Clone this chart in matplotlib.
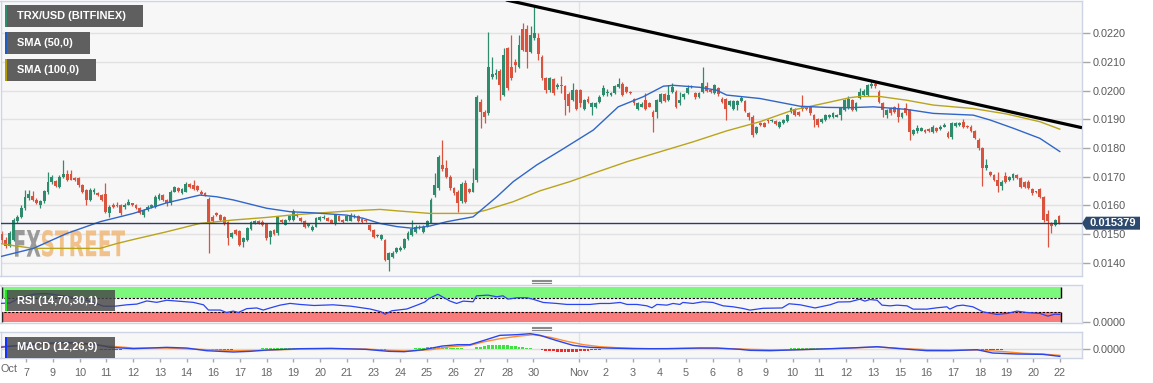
import numpy as np
import matplotlib
matplotlib.use("Agg")
import matplotlib.pyplot as plt
from matplotlib.patches import Rectangle, Polygon, PathPatch
from matplotlib.textpath import TextPath
from matplotlib.font_manager import FontProperties
from matplotlib.transforms import Affine2D
from matplotlib.lines import Line2D

plt.rcParams['font.family'] = ['Liberation Sans', 'DejaVu Sans']

# 4H candles TRX/USD, prices in units of 1e-4 USD
opens = [
    150.0, 148.0, 146.0, 148.0, 154.5, 156.0, 159.0, 162.5, 163.3, 162.0,
    160.0, 161.5, 164.5, 168.0, 168.5, 166.5, 170.0, 171.0, 171.0, 169.5,
    169.5, 167.0, 165.3, 162.0, 164.5, 164.2, 163.6, 164.0, 157.2, 160.2,
    160.3, 160.0, 159.3, 160.3, 160.7, 160.1, 159.0, 156.6, 158.4, 159.5,
    159.5, 162.4, 163.6, 161.9, 160.7, 164.8, 166.0, 164.2, 164.8, 167.3,
    167.0, 166.6, 164.8, 164.3, 162.4, 156.0, 157.5, 156.6, 155.8, 154.3,
    149.1, 151.4, 151.2, 147.2, 147.9, 151.8, 153.7, 154.6, 154.3, 153.4,
    149.0, 151.4, 150.2, 155.0, 153.3, 154.9, 155.0, 156.8, 155.5, 154.5,
    152.8, 151.5, 152.6, 154.9, 155.5, 155.5, 154.9, 153.4, 156.3, 154.9,
    154.7, 154.7, 155.9, 156.3, 155.1, 154.9, 153.1, 151.4, 149.2, 148.3,
    147.9, 140.9, 142.1, 143.8, 144.5, 145.0, 148.4, 149.7, 150.6, 152.0,
    150.8, 152.6, 154.0, 163.6, 166.0, 174.1, 173.0, 170.0, 166.0, 164.8,
    161.5, 167.7, 165.6, 164.8, 168.8, 196.2, 192.7, 192.2, 204.7, 205.5,
    207.0, 198.5, 214.8, 208.4, 210.1, 208.4, 221.7, 221.7, 213.6, 218.3,
    218.3, 211.9, 204.3, 200.2, 204.0, 201.2, 202.0, 201.6, 199.0, 196.7,
    200.2, 200.2, 193.8, 197.3, 194.4, 194.5, 196.2, 198.5, 199.3, 198.5,
    199.1, 201.2, 202.4, 201.2, 199.7, 197.0, 193.8, 194.5, 196.7, 195.6,
    192.7, 192.7, 196.2, 198.8, 196.7, 199.7, 199.7, 195.6, 197.7, 199.1,
    201.3, 199.3, 197.9, 199.7, 201.6, 200.2, 199.3, 200.8, 197.3, 197.0,
    195.2, 193.8, 195.1, 196.3, 196.3, 192.2, 191.0, 185.3, 188.7, 188.7,
    189.9, 189.3, 189.5, 187.5, 188.9, 189.3, 192.7, 193.5, 192.7, 194.4,
    194.4, 194.4, 191.6, 190.0, 189.0, 189.9, 191.0, 191.0, 191.0, 191.6,
    193.3, 193.9, 196.7, 193.3, 197.4, 198.5, 198.5, 201.5, 202.3, 199.7,
    195.6, 191.6, 193.9, 194.2, 193.9, 191.0, 193.9, 193.3, 185.0, 185.8,
    186.1, 186.3, 186.6, 185.7, 187.1, 186.7, 187.5, 185.4, 183.7, 187.7,
    188.1, 189.2, 187.6, 187.5, 185.8, 182.8, 180.0, 172.9, 171.5, 170.6,
    169.0, 166.6, 170.2, 168.8, 169.4, 170.6, 169.4, 168.2, 168.2, 165.6,
    164.7, 165.6, 163.0, 156.9, 153.8, 153.1, 156.3,
]
highs = [
    151.0, 149.0, 151.0, 155.5, 156.5, 160.0, 165.3, 165.3, 165.0, 162.5,
    162.0, 165.5, 171.5, 170.5, 169.0, 170.5, 175.8, 172.5, 172.3, 170.0,
    170.0, 167.5, 165.8, 166.0, 166.0, 164.6, 164.0, 167.7, 160.0, 161.0,
    161.2, 160.5, 160.8, 162.1, 161.0, 160.5, 159.3, 158.8, 160.0, 160.6,
    163.5, 164.2, 164.0, 162.2, 165.3, 166.8, 166.5, 166.0, 168.3, 167.8,
    168.8, 167.0, 165.2, 164.6, 163.0, 156.5, 157.8, 157.0, 156.2, 154.6,
    150.8, 151.8, 151.5, 149.0, 152.5, 154.6, 155.0, 155.0, 154.8, 153.7,
    151.4, 151.8, 156.3, 155.4, 155.4, 156.8, 158.6, 157.3, 155.8, 154.8,
    153.8, 153.0, 156.0, 156.3, 156.5, 156.0, 155.3, 157.0, 156.8, 155.3,
    156.8, 157.2, 157.0, 156.8, 155.5, 155.2, 153.5, 151.8, 150.0, 150.0,
    148.3, 143.8, 144.0, 145.5, 145.8, 148.7, 151.0, 154.9, 153.0, 153.0,
    153.0, 155.0, 162.5, 171.2, 177.5, 182.8, 175.8, 170.5, 166.5, 165.3,
    168.0, 168.8, 166.0, 173.0, 198.5, 197.0, 193.2, 220.6, 211.9, 207.5,
    207.5, 214.8, 215.2, 219.4, 211.0, 219.4, 223.5, 222.9, 222.6, 229.5,
    220.0, 212.4, 204.8, 204.8, 204.5, 202.6, 205.0, 202.0, 199.5, 202.6,
    200.7, 200.7, 197.2, 198.0, 196.0, 196.0, 198.5, 202.0, 200.5, 199.5,
    202.0, 204.3, 203.0, 201.6, 200.0, 197.5, 196.0, 196.0, 199.1, 196.0,
    193.2, 197.2, 199.3, 199.3, 202.0, 202.6, 200.2, 199.7, 199.3, 202.0,
    202.0, 199.7, 199.5, 208.4, 203.2, 200.6, 202.5, 201.2, 197.7, 197.5,
    196.7, 196.7, 196.7, 198.2, 196.7, 192.6, 191.4, 187.6, 189.0, 189.0,
    190.3, 190.3, 189.8, 189.6, 190.3, 192.0, 194.4, 193.9, 193.0, 198.5,
    194.8, 194.8, 192.0, 190.4, 190.6, 192.0, 192.0, 192.5, 192.0, 194.4,
    197.3, 198.0, 197.3, 196.0, 200.9, 200.5, 202.5, 203.8, 202.9, 200.2,
    196.0, 193.8, 194.3, 194.6, 195.6, 192.5, 195.6, 193.8, 186.6, 187.9,
    187.3, 186.7, 187.0, 188.1, 187.5, 187.9, 188.6, 185.8, 189.0, 189.0,
    189.1, 190.0, 188.1, 188.2, 186.2, 183.4, 180.4, 176.2, 171.9, 171.0,
    171.7, 168.7, 171.7, 170.4, 171.4, 171.0, 169.8, 168.6, 168.8, 166.0,
    164.9, 166.0, 163.4, 158.5, 154.1, 155.2, 156.5,
]
lows = [
    147.0, 145.0, 145.5, 147.5, 154.0, 155.5, 158.5, 162.0, 161.5, 160.5,
    159.0, 161.0, 164.0, 167.5, 166.3, 166.0, 169.5, 168.5, 168.8, 168.5,
    166.5, 164.3, 160.1, 161.5, 164.0, 163.2, 161.5, 157.2, 156.0, 159.0,
    159.5, 156.8, 158.8, 160.0, 159.8, 158.6, 157.0, 156.0, 158.0, 159.2,
    159.0, 162.0, 161.4, 159.8, 160.3, 164.5, 164.5, 164.0, 164.5, 166.2,
    165.5, 165.0, 163.7, 163.3, 143.5, 154.0, 156.3, 154.5, 153.3, 146.2,
    148.7, 149.7, 145.8, 145.6, 147.5, 151.4, 153.4, 153.4, 152.8, 148.0,
    146.5, 149.7, 149.8, 153.9, 153.0, 154.6, 154.7, 155.8, 154.2, 152.0,
    152.5, 151.2, 152.3, 154.6, 155.2, 154.4, 153.7, 153.0, 154.4, 154.0,
    154.4, 154.4, 155.6, 154.3, 154.0, 154.1, 151.0, 148.5, 148.9, 148.0,
    140.5, 137.2, 141.8, 143.5, 144.2, 144.7, 148.0, 149.4, 150.3, 151.7,
    150.3, 152.3, 153.7, 163.0, 165.5, 171.9, 169.5, 165.5, 163.6, 157.8,
    161.0, 160.8, 164.2, 164.5, 168.3, 186.9, 188.7, 191.5, 204.2, 204.0,
    196.7, 198.0, 200.2, 203.8, 206.6, 207.9, 214.0, 207.8, 213.2, 217.7,
    210.9, 203.8, 199.1, 199.7, 198.6, 200.6, 199.1, 191.6, 192.7, 196.3,
    193.3, 194.5, 193.3, 195.8, 191.6, 194.0, 195.8, 198.0, 198.3, 198.2,
    198.7, 200.8, 198.0, 199.3, 199.0, 195.2, 193.3, 194.2, 193.4, 194.2,
    185.7, 190.4, 195.8, 196.0, 196.3, 199.3, 194.0, 195.2, 197.3, 198.7,
    201.0, 197.3, 197.5, 199.3, 199.5, 199.3, 199.0, 198.3, 195.8, 189.8,
    194.8, 193.4, 193.3, 196.0, 192.7, 189.8, 183.7, 184.9, 187.8, 187.2,
    188.9, 189.0, 188.0, 187.0, 188.5, 189.0, 192.4, 191.2, 191.2, 193.1,
    193.4, 191.6, 187.5, 187.5, 188.6, 189.5, 190.6, 190.6, 190.8, 189.8,
    193.0, 193.5, 192.8, 192.9, 197.0, 198.1, 198.1, 201.1, 200.8, 195.8,
    191.0, 190.4, 191.7, 192.3, 189.2, 190.6, 191.7, 182.8, 184.6, 185.4,
    185.8, 185.1, 185.5, 185.3, 185.5, 186.3, 187.2, 183.6, 183.3, 187.3,
    187.8, 187.1, 187.0, 185.7, 183.0, 179.5, 166.7, 172.5, 170.2, 168.4,
    164.8, 165.3, 167.8, 168.4, 169.0, 169.3, 165.9, 166.1, 165.6, 163.8,
    164.3, 162.6, 154.3, 145.6, 150.3, 152.8, 153.5,
]
closes = [
    148.0, 146.0, 150.5, 154.9, 155.8, 159.0, 163.0, 164.0, 162.0, 161.0,
    161.5, 165.0, 168.0, 170.0, 166.8, 170.0, 171.0, 169.0, 169.0, 169.0,
    167.0, 164.8, 161.9, 165.3, 165.3, 163.6, 162.0, 157.8, 159.5, 159.5,
    159.9, 157.2, 160.3, 161.2, 160.2, 159.0, 157.5, 158.4, 159.5, 160.1,
    163.0, 163.6, 161.9, 160.7, 164.8, 166.3, 165.0, 165.6, 167.5, 166.5,
    165.8, 165.3, 164.0, 163.6, 154.3, 154.5, 156.6, 154.9, 153.7, 148.5,
    150.2, 150.0, 146.2, 148.5, 152.0, 154.1, 154.6, 153.7, 153.1, 148.5,
    151.0, 150.0, 155.8, 154.2, 154.9, 156.3, 158.1, 156.2, 154.5, 152.6,
    153.4, 152.6, 155.5, 155.8, 156.0, 154.7, 154.0, 156.6, 154.7, 154.3,
    156.3, 156.6, 156.3, 154.7, 154.3, 154.4, 151.4, 149.1, 149.6, 149.7,
    140.9, 143.3, 143.5, 145.0, 145.2, 148.2, 150.5, 151.7, 152.6, 152.6,
    152.6, 154.5, 162.0, 167.1, 177.0, 172.6, 170.0, 166.0, 164.2, 160.7,
    167.3, 161.3, 164.5, 167.7, 197.9, 192.7, 191.0, 208.4, 205.9, 206.1,
    202.0, 212.4, 200.8, 204.3, 208.9, 216.0, 214.4, 213.6, 219.4, 220.0,
    213.0, 204.3, 200.2, 204.3, 199.1, 202.0, 201.6, 196.7, 194.6, 200.2,
    193.8, 195.6, 196.7, 196.2, 195.6, 195.6, 197.9, 200.8, 199.4, 199.1,
    201.6, 202.4, 198.5, 199.7, 199.3, 195.6, 195.6, 195.4, 193.8, 194.5,
    191.0, 196.7, 198.8, 196.4, 198.5, 201.4, 194.5, 196.7, 198.8, 200.8,
    201.6, 197.7, 199.1, 202.8, 200.0, 199.7, 202.0, 198.8, 196.2, 193.8,
    196.3, 196.3, 196.3, 197.5, 193.1, 191.0, 184.5, 187.2, 188.1, 187.5,
    189.3, 189.9, 188.4, 189.2, 189.9, 191.6, 193.9, 191.6, 191.6, 193.5,
    193.8, 192.1, 189.9, 188.1, 190.2, 191.6, 191.6, 192.1, 191.6, 193.9,
    196.7, 197.3, 193.3, 195.6, 199.7, 199.9, 202.0, 202.3, 201.7, 196.2,
    193.3, 193.3, 192.1, 192.7, 191.0, 192.1, 192.1, 185.7, 186.2, 186.9,
    186.9, 185.5, 185.8, 187.2, 185.9, 187.5, 188.1, 184.0, 188.7, 188.7,
    188.7, 187.5, 187.2, 186.1, 183.4, 179.9, 172.9, 174.1, 170.6, 168.8,
    166.8, 168.3, 168.2, 170.0, 170.9, 169.6, 166.3, 166.5, 166.0, 164.2,
    164.5, 163.0, 154.9, 154.6, 152.9, 154.9, 153.79,
]

# moving averages (candle index, price 1e-4)
sma50_x = [-0.5, 8.2, 16.9, 25.6, 34.3, 43, 51.7, 56.1, 60.4, 69.1, 75.2, 81.3, 90,
           94.3, 98.7, 103.1, 107.4, 111.7, 116.1, 123, 129.2, 133.5, 139.6, 146,
           154.4, 160.9, 167.4, 172.7, 175.3, 182.2, 186.6, 189.2, 197.9, 208.4,
           215.3, 221.4, 227.5, 236.2, 243.2, 253.6, 258, 264.1, 271, 276.2]
sma50_y = [142.1, 145, 150.2, 154.3, 157.2, 160.9, 163.6, 163, 161.9, 159, 157.8,
           157.4, 156.6, 155.5, 153.7, 152.6, 152, 152.8, 154.3, 156, 163, 168.3,
           174.1, 179.3, 186.3, 194.4, 197.9, 201.6, 201.9, 201.2, 200.2, 198.5,
           197.3, 194.6, 194.2, 194.1, 194.4, 193.5, 192.1, 191.5, 189.8, 186.9,
           183.4, 178.8]
sma100_x = [-0.5, 3.8, 8.2, 25.6, 30, 34.3, 43, 51.7, 60.4, 69.1, 75.2, 81.3, 90,
            98.7, 103.1, 111.7, 123, 126.5, 133.5, 140.5, 148.3, 154.4, 163.1,
            171.8, 180.5, 189.2, 197.9, 206.6, 215.3, 221.4, 224, 229.2, 236.2,
            243.2, 253.6, 262.3, 271, 276.2]
sma100_y = [146.7, 145.8, 145, 145, 146.7, 148.1, 150.8, 153.7, 154.9, 155.8,
            156.6, 157.2, 158, 158.6, 158.1, 157.2, 157.2, 158.4, 161.3, 165.1,
            168.3, 171.2, 175.2, 178.7, 182.2, 186, 189.2, 193.3, 195.8, 197.6,
            198, 198, 196.7, 195, 193.8, 191.9, 189.2, 186.6]
trend_x = [131.6, 282.0]
trend_y = [231.7, 187.1]

rsi_x = [-0.5, 2, 4.7, 8.2, 10.8, 12.5, 17, 21, 23.8, 26.4, 29.5, 32.6, 35.2, 37.8,
         40.4, 43, 46.4, 49.9, 52.6, 53.9, 57, 58.6, 60.4, 61.7, 63.9, 66.5, 68.2,
         70, 72.6, 75.2, 77.8, 81.5, 86.4, 91.1, 96.1, 99, 100, 101.8, 105.7,
         108.6, 110.4, 111.5, 113.8, 117, 118.7, 120.4, 123, 123.9, 126.9, 129.2,
         130.8, 132.1, 134.5, 137.1, 138.6, 141.3, 144.9, 147.5, 153.5, 156.1,
         158.7, 161.4, 163.2, 165.8, 168.4, 169.7, 171, 173.6, 175.2, 177, 177.8,
         180.4, 183, 185.6, 188.3, 190.9, 193.5, 195.3, 198.7, 203.7, 205.5,
         208.4, 212.3, 216.2, 218.3, 221.4, 224, 225.3, 226.6, 228.5, 229.8,
         231.9, 233.7, 236.3, 237.9, 241.5, 244.1, 246.7, 247.5, 249.3, 250.9,
         253.5, 256.1, 259.8, 262.4, 265, 267.6, 271, 273.1, 274.9, 276.2]
rsi_v = [54, 55, 70, 80, 82, 81, 74, 66, 57, 46, 46, 50, 52, 61, 57, 63, 60, 57,
         50, 35, 35, 28, 32, 28, 39, 41, 35, 41, 49, 54, 51, 48, 50, 46, 38, 30,
         23, 33, 38, 50, 58, 68, 80, 60.5, 53.8, 60.5, 58.6, 75.7, 77.6, 72.9,
         75.7, 66.2, 70, 70, 66, 56.7, 53.8, 51, 51, 53.8, 53.8, 56.7, 51, 51, 47,
         41.4, 51, 49, 53.8, 51, 56.7, 53.8, 58.6, 56.7, 47, 44.3, 39.5, 34.8, 40,
         41, 53, 50, 41, 50, 58, 58.6, 66, 60.5, 65, 63, 49, 47, 49, 47, 37.6,
         37.6, 41.4, 44.3, 37.6, 47, 49, 44.3, 30, 22.4, 25.3, 31.9, 28, 25.3,
         17.6, 23.3, 22.4]

# MACD (12,26,9), values in 1e-4
macd_x = [-0.5, 8.2, 16.9, 23.8, 28.2, 34.3, 43, 48.2, 53.4, 60.4, 64.7, 69.1,
          77.8, 86, 95, 101, 105, 110, 115, 119, 122.2, 125.6, 130, 134.5, 137.9,
          140.5, 144.9, 149.1, 153.5, 158, 164.8, 173.6, 182.2, 186.7, 192.7,
          195.3, 200.5, 208.4, 216.2, 221.4, 228.5, 234.5, 241.5, 247.5, 254.6,
          258.7, 265, 271.8, 276.2]
macd_v = [0.4, 1.4, 1.9, 1.4, 0.4, 0, 0.4, 0.2, -0.6, -1.0, -0.8, -0.4, 0, 0.1,
          -0.2, -0.8, -0.9, -0.3, 0.8, 1.2, 1.2, 2.4, 4.0, 4.2, 4.5, 4.0, 2.4, 1.0,
          0.4, 0.2, 0, 0, 0.2, 0.2, -0.2, -0.5, -0.6, -0.3, 0, 0.2, 0.6, 0, -0.6,
          -0.6, -0.3, -1.3, -1.6, -1.7, -2.3]
signal_x = [-0.5, 8.2, 16.9, 25.6, 34.3, 43, 51.7, 60.4, 69.1, 77.8, 86, 95, 101,
            106, 112, 117, 122.2, 125.6, 130, 134.5, 138.7, 143.2, 147.5, 151.8,
            156.1, 160.4, 169.1, 182.2, 190.9, 195.3, 203, 212, 221.4, 228.5,
            234.5, 241.5, 247.5, 254.6, 260.8, 266.9, 271.8, 276.2]
signal_v = [0.6, 1.2, 1.6, 1.0, 0.2, 0.2, -0.2, -0.6, -0.5, -0.1, 0.0, -0.1, -0.5,
            -0.7, -0.3, 0.6, 1.0, 2.0, 3.0, 3.7, 4.2, 3.4, 2.2, 1.2, 0.6, 0.3, 0,
            0.1, 0, -0.2, -0.4, -0.2, 0.2, 0.5, 0.1, -0.3, -0.4, -0.4, -0.8, -1.4,
            -1.6, -2.0]
hist_start = [24, 52, 68, 96, 108, 124, 140, 206, 235, 255, 270]
hist_vals = [
    [-0.1, -0.2, -0.3, -0.3, -0.4, -0.4, -0.3, -0.3, -0.2, -0.2, -0.1],
    [-0.1, -0.2, -0.3, -0.4, -0.4, -0.4, -0.3, -0.3, -0.3, -0.2, -0.2, -0.1],
    [0.1, 0.2, 0.2, 0.3, 0.3, 0.3, 0.2, 0.2, 0.2, 0.1, 0.1, 0.1, 0.1],
    [-0.1, -0.2, -0.3, -0.3, -0.3, -0.2, -0.2, -0.1, -0.1],
    [0.1, 0.2, 0.3, 0.4, 0.5, 0.5, 0.6, 0.5, 0.4, 0.3, 0.2, 0.2, 0.2],
    [0.4, 0.6, 0.8, 1.0, 1.1, 1.2, 1.2, 1.1, 1.0, 0.9, 0.7, 0.6, 0.4, 0.3, 0.2],
    [-0.2, -0.4, -0.6, -0.7, -0.8, -0.9, -1.0, -1.0, -1.0, -0.9, -0.9, -0.8,
     -0.7, -0.6, -0.5, -0.4, -0.3, -0.2],
    [0.1] * 12,
    [-0.1] * 9,
    [-0.2, -0.3, -0.3, -0.3, -0.3, -0.3, -0.3, -0.2, -0.2, -0.2, -0.1],
    [-0.1, -0.2, -0.2, -0.2, -0.2, -0.2, -0.2],
]

tick_pos = [6.27, 13.24, 20.37, 27.15, 34.28, 41.25, 48.22, 55.17, 62.14, 69.11,
            76.06, 83.03, 90.0, 96.95, 103.92, 110.89, 117.83, 124.8, 131.93,
            138.72, 150.73, 157.7, 164.67, 171.62, 178.59, 185.56, 192.51, 199.48,
            206.45, 213.4, 220.37, 227.49, 234.46, 241.44, 248.38, 255.35, 262.32,
            269.27, 276.24]
tick_lab = ['7', '9', '10', '11', '12', '13', '14', '16', '17', '18', '19', '20',
            '21', '23', '24', '25', '26', '27', '28', '30', 'Nov', '2', '3', '4',
            '5', '6', '8', '9', '10', '11', '12', '13', '15', '16', '17', '18',
            '19', '20', '22']
nov_pos = 150.73

SCALE = 1e-4
o = np.array(opens) * SCALE
h = np.array(highs) * SCALE
l = np.array(lows) * SCALE
c = np.array(closes) * SCALE
idx = np.arange(len(c))

GREEN = '#2e8b6e'
RED = '#d9533f'
cols = [GREEN if cc >= oo else RED for oo, cc in zip(o, c)]

W, H = 1153, 383
fig = plt.figure(figsize=(W / 100, H / 100), dpi=100)
fig.patch.set_facecolor('white')


def box(x0, y0, x1, y1):
    return [x0 / W, 1 - y1 / H, (x1 - x0) / W, (y1 - y0) / H]


ax = fig.add_axes(box(0.5, 0.5, 1082, 276))
ax_rsi = fig.add_axes(box(0.5, 284.7, 1082, 323))
ax_macd = fig.add_axes(box(0.5, 332, 1082, 358))

XL, XR = -0.4, 282.0
for a in (ax, ax_rsi, ax_macd):
    a.set_facecolor('#f7f7f7')
    a.set_xlim(XL, XR)
    for s in a.spines.values():
        s.set_color('#cdd4e4')
        s.set_linewidth(1)
    a.yaxis.tick_right()
    a.tick_params(axis='y', length=6, width=1, color='#a8a8a8',
                  labelcolor='#5a5a5a', labelsize=7.8, pad=1.5)
    a.axvline(nov_pos, color='#e3e3e3', lw=1, zorder=0.5)

# ---- main price panel
ax.set_ylim(0.013536, 0.02315)
yt = np.arange(0.014, 0.0225, 0.001)
ax.set_yticks(yt)
ax.set_yticklabels([f'{v:.4f}' for v in yt])
ax.set_xticks([])
for v in yt:
    ax.axhline(v, color='#e2e2e2', lw=1, zorder=0.5)

# watermark
fp = FontProperties(family='DejaVu Sans', weight='bold')
for txt, x0, x1, colr in (('FX', 15, 40.5, '#8a8a8a'),
                          ('STREET', 42, 125, '#f0b878')):
    tp = TextPath((0, 0), txt, size=10, prop=fp)
    bb = tp.get_extents()
    sx = (x1 - x0) / bb.width / W
    sy = (256.7 - 230) / bb.height / H
    tr = (Affine2D().translate(-bb.x0, -bb.y0).scale(sx, sy)
          .translate(x0 / W, 1 - 256.7 / H) + fig.transFigure)
    ax.add_patch(PathPatch(tp, transform=tr, facecolor=colr, edgecolor='none',
                           alpha=0.85, zorder=1, clip_on=False))

body_lo = np.minimum(o, c)
body_h = np.maximum(np.abs(c - o), 0.000035)
ax.vlines(idx, l, h, colors=cols, lw=0.9, zorder=2)
ax.bar(idx, body_h, bottom=body_lo, width=0.74, color=cols, linewidth=0, zorder=3)

ax.plot(sma100_x, np.array(sma100_y) * SCALE, color='#b9a41c', lw=1.0, zorder=4)
ax.plot(sma50_x, np.array(sma50_y) * SCALE, color='#2f66c8', lw=1.0, zorder=4)
ax.plot(trend_x, np.array(trend_y) * SCALE, color='black', lw=2.3, zorder=5,
        solid_capstyle='butt')
ax.axhline(c[-1], color='#2c3f5f', lw=1.0, zorder=4.5)

# current price tag
py = 33.5 + (220 - closes[-1]) * 2.865
tag = np.array([(1082, py), (1086, py - 6.5), (1140, py - 6.5),
                (1140, py + 6.5), (1086, py + 6.5)])
fig.add_artist(Polygon(np.column_stack([tag[:, 0] / W, 1 - tag[:, 1] / H]),
                       closed=True, transform=fig.transFigure,
                       facecolor='#2d4a6e', edgecolor='none', zorder=6))
fig.text(1113 / W, 1 - py / H, f'{c[-1]:.6f}', color='white', fontsize=8,
         fontweight='bold', ha='center', va='center', zorder=7)

# ---- RSI panel
ax_rsi.set_ylim(-2.0, 107.4)
ax_rsi.set_yticks([0])
ax_rsi.set_yticklabels(['0.0000'])
ax_rsi.set_xticks([])
xe = 276.4
ax_rsi.add_patch(Rectangle((XL, 70), xe - XL, 30, facecolor='#7cf97c',
                           edgecolor='none', zorder=1))
ax_rsi.add_patch(Rectangle((XL, 0), xe - XL, 30, facecolor='#f87c7c',
                           edgecolor='none', zorder=1))
ax_rsi.hlines([30, 70], XL, xe, colors='black', lw=0.8,
              linestyles=(0, (2, 1.5)), zorder=2)
ax_rsi.vlines([xe, xe], [0, 70], [30, 100], colors='black', lw=1, zorder=2)
ax_rsi.vlines([XL + 0.3, XL + 0.3], [0, 70], [30, 100], colors='black', lw=1,
              zorder=2)
ax_rsi.plot(rsi_x, rsi_v, color='#2a44f0', lw=0.9, zorder=3)

# ---- MACD panel
ax_macd.set_ylim(-2.79, 5.0)
ax_macd.set_yticks([0])
ax_macd.set_yticklabels(['0.0000'])
ax_macd.axhline(0, color='#dcdcdc', lw=1, zorder=0.6)
for st, vals in zip(hist_start, hist_vals):
    xs = np.arange(st, st + len(vals))
    vv = np.array(vals)
    ax_macd.bar(xs, vv, width=0.75, color=np.where(vv > 0, '#3ee23e', '#ee2a2a'),
                linewidth=0, zorder=2)
ax_macd.plot(signal_x, signal_v, color='#ff8a30', lw=1.0, zorder=3)
ax_macd.plot(macd_x, macd_v, color='#2a44f0', lw=1.0, zorder=3)
ax_macd.set_xticks(tick_pos)
ax_macd.set_xticklabels(tick_lab)
ax_macd.tick_params(axis='x', length=3, width=1, color='#a8a8a8',
                    labelcolor='#666666', labelsize=7.8, pad=4)
fig.text(0.5 / W, 1 - 369.5 / H, 'Oct', color='#666666', fontsize=7.8,
         ha='left', va='center')


# ---- legend boxes
def label_box(x0, y0, x1, y1, stripe, text, fc='#5f5f5f', alpha=1.0):
    fig.add_artist(Rectangle((x0 / W, 1 - y1 / H), (x1 - x0) / W, (y1 - y0) / H,
                             transform=fig.transFigure, facecolor=fc,
                             edgecolor='none', alpha=alpha, zorder=6))
    fig.add_artist(Rectangle((x0 / W, 1 - y1 / H), 2.3 / W, (y1 - y0) / H,
                             transform=fig.transFigure, facecolor=stripe,
                             edgecolor='none', zorder=7))
    fig.text(16.7 / W, 1 - (y0 + y1) / 2 / H, text, color='white', fontsize=7.9,
             fontweight='bold', ha='left', va='center', zorder=8)


label_box(5, 5, 143, 27, '#2e8b6e', 'TRX/USD (BITFINEX)')
label_box(5, 32, 90, 54, '#1f5cc0', 'SMA (50,0)')
label_box(5, 59, 96, 81, '#b39b00', 'SMA (100,0)')
label_box(5, 290, 115, 311.3, '#22e022', 'RSI (14,70,30,1)', fc='#454545', alpha=0.82)
label_box(5, 337, 115, 358, '#1133ff', 'MACD (12,26,9)', fc='#454545', alpha=0.82)

# panel resize handles
for yb in (279.5, 326.5):
    for k in range(3):
        yy = 1 - (yb + 1.6 * k) / H
        fig.add_artist(Line2D([532 / W, 551 / W], [yy, yy], color='#8a8a8a',
                              lw=0.8, transform=fig.transFigure, zorder=6))

fig.savefig('out.png', dpi=100)
